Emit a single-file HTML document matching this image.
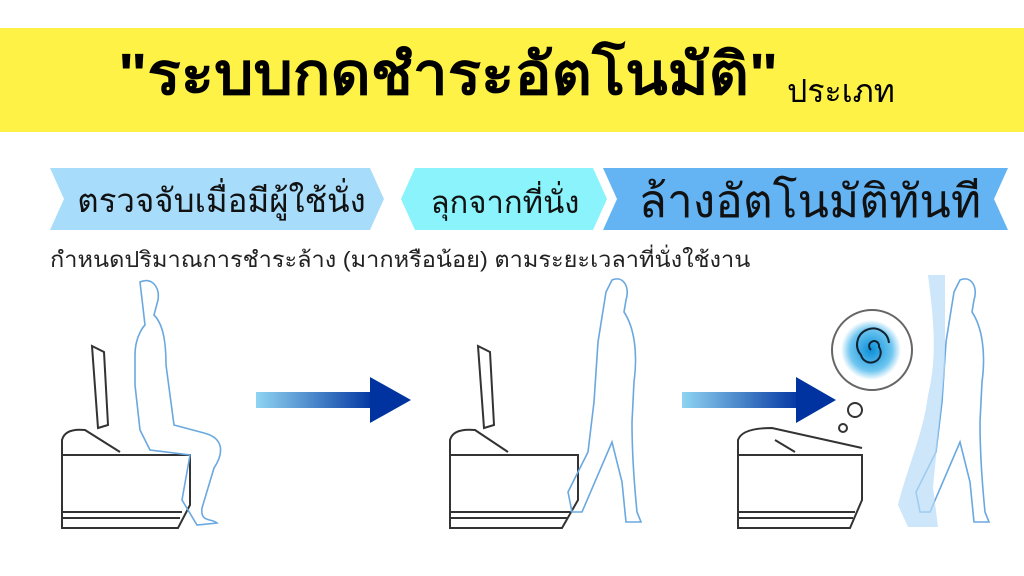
<!DOCTYPE html>
<html><head><meta charset="utf-8"><style>
body{margin:0;width:1024px;height:576px;background:#fff;overflow:hidden;position:relative;font-family:"Liberation Sans","Noto Sans CJK SC",sans-serif}
.ban{position:absolute;left:0;top:28px;width:1024px;height:104px;background:#fdf245}
.t{position:absolute;left:118px;top:30px;font-size:58px;font-weight:bold;color:#000;white-space:nowrap;line-height:90px;transform:scaleX(1.07);transform-origin:left}
.t2{position:absolute;left:787px;top:69px;font-size:32px;color:#000;white-space:nowrap;line-height:44px}
.lab{position:absolute;white-space:nowrap;color:#111;text-align:center;transform-origin:center}
.sub{position:absolute;left:50px;top:242px;font-size:22px;color:#222;white-space:nowrap;transform:scaleX(1.07);transform-origin:left}
</style></head><body>
<div class="ban"></div>
<div class="t">"ระบบกดชำระอัตโนมัติ"</div>
<div class="t2">ประเภท</div>
<svg style="position:absolute;left:0;top:0" width="1024" height="576">
<polygon points="50,168 370,168 384,199 370,230 50,230 64,199" fill="#a8dcfb"/>
<polygon points="415,168 593,168 607,199 593,230 415,230 401,199" fill="#8af3fb"/>
<polygon points="603,168 1008,168 994,199 1008,230 603,230 617,199" fill="#64b4f4"/>
<defs><linearGradient id="g" x1="0" x2="1"><stop offset="0" stop-color="#8fd4f2"/><stop offset="1" stop-color="#0033a0"/></linearGradient>
<radialGradient id="r"><stop offset="0" stop-color="#0a8fd8"/><stop offset=".7" stop-color="#6fc6f0"/><stop offset="1" stop-color="#fff"/></radialGradient></defs>
<rect x="256" y="392" width="120" height="16" fill="url(#g)"/><polygon points="370,377 411,400 370,423" fill="#0033a0"/>
<rect x="682" y="392" width="120" height="16" fill="url(#g)"/><polygon points="796,377 836,400 796,423" fill="#0033a0"/>
<g fill="none" stroke="#333" stroke-width="2">
<path d="M62,455 L190,455 L190,505 L178,528 L62,528 Z M62,512 L182,512 M62,518 L180,518"/><path d="M62,455 L62,440 Q65,428 85,430 L120,452 M92,346 L104,352 L108,425 L98,428 Z"/>
<path d="M450,455 L578,455 L578,500 L562,528 L450,528 Z M450,512 L570,512 M450,518 L568,518"/><path d="M450,455 L450,440 Q453,428 475,430 L508,452 M478,346 L490,352 L494,425 L484,428 Z"/>
<path d="M738,455 L862,455 L862,500 L850,528 L738,528 Z M738,512 L855,512 M738,518 L853,518"/><path d="M738,455 L738,440 Q742,428 772,428 L862,448 M775,440 L795,452"/>
<circle cx="872" cy="350" r="40" stroke="#666"/><circle cx="855" cy="410" r="7"/><circle cx="843" cy="428" r="4"/>
</g>
<circle cx="871" cy="350" r="30" fill="url(#r)"/>
<path d="M871,350 a5,5 0 1 1 8,-3 a10,10 0 1 1 -18,8 a16,16 0 1 1 28,-12" fill="none" stroke="#123" stroke-width="2"/>
<g fill="none" stroke="#6aa8e0" stroke-width="1.6">
<path d="M140,282 c12,-5 20,5 18,18 l-4,15 c10,10 12,30 12,50 l8,60 l30,8 c20,5 20,20 10,35 l-12,40 c-2,15 10,10 15,15 l-20,2 l-15,-25 l8,-45 l-40,-5 l-10,-20 l-5,-45 l0,-30 c0,-20 10,-30 10,-30 z"/>
<path d="M612,280 c12,-5 18,8 14,20 l-2,12 c10,15 14,40 10,70 l-2,40 c0,30 2,60 5,90 l4,10 l-15,0 l-4,-40 l-10,-40 l-30,70 l-10,0 l-4,-20 l20,-40 l6,-50 l4,-60 l8,-50 z"/>
<path d="M960,280 c12,-5 18,8 14,20 l-2,12 c10,15 14,40 10,70 l-2,40 c0,30 2,60 5,90 l4,10 l-15,0 l-4,-40 l-10,-40 l-30,70 l-10,0 l-4,-20 l20,-40 l6,-50 l4,-60 l8,-50 z"/>
</g>
<path d="M928,275 c5,40 10,80 0,120 c-5,40 -20,70 -30,110 l10,22 l30,0 l-5,-40 l12,-120 l0,-92 z" fill="#b8dcf6" opacity=".7"/>
</svg>
<div class="lab" style="left:64px;top:174px;width:315px;font-size:33px">ตรวจจับเมื่อมีผู้ใช้นั่ง</div>
<div class="lab" style="left:410px;top:177px;width:190px;font-size:31px">ลุกจากที่นั่ง</div>
<div class="lab" style="left:615px;top:165px;width:390px;font-size:46px">ล้างอัตโนมัติทันที</div>
<div class="sub">กำหนดปริมาณการชำระล้าง (มากหรือน้อย) ตามระยะเวลาที่นั่งใช้งาน</div>
</body></html>
